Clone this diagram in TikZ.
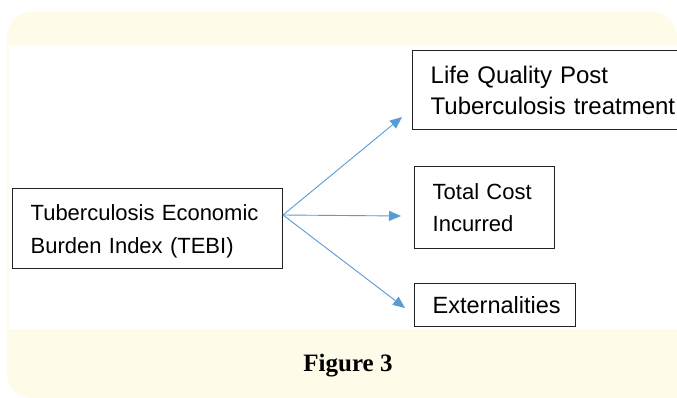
\documentclass[tikz,border=0pt]{standalone}
\usepackage{fontspec}
\setmainfont{Liberation Sans}
\newfontfamily\capfont{Liberation Serif}
\usetikzlibrary{arrows.meta}
\definecolor{cream}{HTML}{FEFBE8}
\definecolor{arrowblue}{HTML}{5B9BD5}
\definecolor{boxline}{HTML}{222222}
\tikzset{
  boxnode/.style={draw=boxline, line width=1.3pt, anchor=north west, align=left,
    inner xsep=18pt, inner ysep=0pt},
  link/.style={draw=arrowblue, line width=0.9pt, -{Triangle[length=12pt,width=10pt]}}
}
\begin{document}
\begin{tikzpicture}[x=1pt,y=-1pt]
\useasboundingbox (0,0) rectangle (677,398);
\fill[white] (0,0) rectangle (677,398);
% cream panel
\fill[cream, rounded corners=25pt] (7,12) rectangle (677,398);
\fill[cream] (640,360) rectangle (677,398);
\fill[white] (9,45) rectangle (677,329);
% boxes
\node[boxnode, minimum height=80pt, text width=234pt,
  font=\fontsize{22}{33}\selectfont] (tebi) at (12,188)
  {\rule{0pt}{22pt}Tuberculosis Economic\\Burden Index (TEBI)};
\begin{scope}
\clip (0,0) rectangle (677.5,398);
\node[boxnode, minimum height=79pt, text width=300pt,
  font=\fontsize{24}{31}\selectfont] (life) at (412,50)
  {Life Quality Post\\Tuberculosis treatment};
\end{scope}
\node[boxnode, minimum height=82pt, text width=104pt,
  font=\fontsize{22}{32}\selectfont] (cost) at (414,166)
  {Total Cost\\Incurred};
\node[boxnode, minimum height=43pt, text width=125pt,
  font=\fontsize{23.5}{30}\selectfont] (ext) at (414,283)
  {\raisebox{-3pt}{Externalities}};
% arrow ends
\coordinate (src) at (283,215);
\coordinate (e1) at (402,117);
\coordinate (e2) at (401,216);
\coordinate (e3) at (405,308);
\draw[link] (src) -- (e1);
\draw[link] (src) -- (e2);
\draw[link] (src) -- (e3);
% caption
\node (cap) at (348,366) {\capfont\bfseries\fontsize{25}{28}\selectfont Figure 3};
\end{tikzpicture}
\end{document}
